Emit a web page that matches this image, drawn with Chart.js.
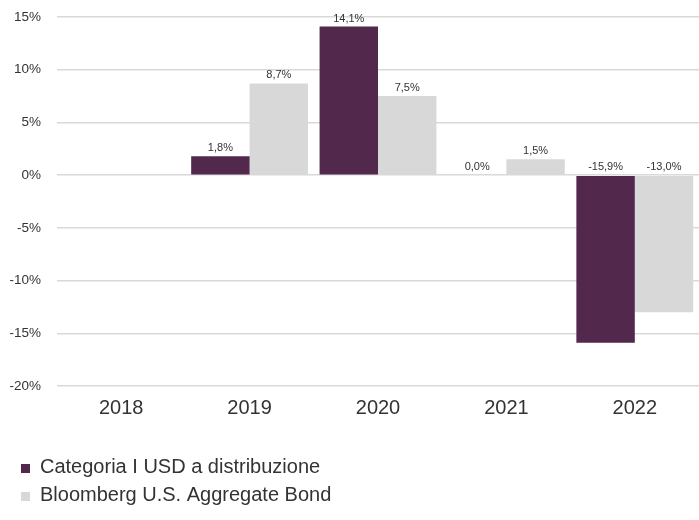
<!DOCTYPE html>
<html>
<head>
<meta charset="utf-8">
<script src="https://cdn.jsdelivr.net/npm/chart.js@4.4.1/dist/chart.umd.min.js"></script>
<style>
  html, body { margin: 0; padding: 0; background: #fff; }
  #wrap { width: 699px; height: 520px; }
</style>
</head>
<body>
<div id="wrap"><canvas id="barChart" width="699" height="520"></canvas></div>
<script>
const years = ['2018', '2019', '2020', '2021', '2022'];
const fundLabel = 'Categoria I USD a distribuzione';
const fundValues = [null, 1.8, 14.1, 0.0, -15.9];
const indexLabel = 'Bloomberg U.S. Aggregate Bond';
const indexValues = [null, 8.7, 7.5, 1.5, -13.0];
const yTicks = [15, 10, 5, 0, -5, -10, -15, -20];

const purple = '#52284c';
const grey = '#d8d8d8';
const font = "Arial, 'Liberation Sans', sans-serif";

// labels above bars (negative values: label sits above the zero line)
const valueLabels = {
    id: 'valueLabels',
    afterDatasetsDraw(chart) {
        const ctx = chart.ctx;
        const zero = chart.scales.y.getPixelForValue(0);
        ctx.save();
        ctx.font = '11px ' + font;
        ctx.fillStyle = '#333';
        ctx.textAlign = 'center';
        ctx.textBaseline = 'middle';
        chart.data.datasets.forEach((ds, i) => {
            chart.getDatasetMeta(i).data.forEach((bar, j) => {
                const v = ds.data[j];
                if (v === null) return;
                const top = v > 0 ? bar.y : zero;
                ctx.fillText(v.toFixed(1).replace('.', ',') + '%', bar.x, top - 8);
            });
        });
        ctx.restore();
    }
};

// vertical legend in the lower left corner
const sideLegend = {
    id: 'sideLegend',
    afterDraw(chart) {
        const ctx = chart.ctx;
        ctx.save();
        ctx.font = '20px ' + font;
        ctx.textBaseline = 'alphabetic';
        ctx.textAlign = 'left';
        chart.data.datasets.forEach((ds, i) => {
            const base = 473 + i * 28;
            ctx.fillStyle = ds.backgroundColor;
            ctx.fillRect(21, base - 9, 9, 9);
            ctx.fillStyle = '#333';
            ctx.fillText(ds.label, 40, base);
        });
        ctx.restore();
    }
};

new Chart(
    document.getElementById('barChart'),
    {
        type: 'bar',
        data: {
            labels: years,
            datasets: [
                {
                    label: fundLabel,
                    data: fundValues,
                    backgroundColor: purple,
                    barPercentage: 1.0,
                    categoryPercentage: 0.91
                },
                {
                    label: indexLabel,
                    data: indexValues,
                    backgroundColor: grey,
                    barPercentage: 1.0,
                    categoryPercentage: 0.91
                }
            ]
        },
        options: {
            responsive: false,
            animation: false,
            layout: {
                padding: { top: 17, left: 10, right: 0, bottom: 98 }
            },
            scales: {
                x: {
                    grid: { display: false },
                    border: { display: false },
                    ticks: {
                        color: '#333',
                        padding: 2,
                        font: { family: font, size: 20 }
                    }
                },
                y: {
                    min: -20,
                    max: 15,
                    afterBuildTicks: axis => {
                        axis.ticks = yTicks.map(v => ({ value: v }));
                    },
                    afterFit: axis => {
                        axis.width = 47;
                        axis.paddingTop = 0;
                        axis.paddingBottom = 0;
                    },
                    grid: {
                        color: '#d9d9d9',
                        lineWidth: 1.5,
                        drawTicks: false
                    },
                    border: { display: false },
                    ticks: {
                        color: '#333',
                        padding: 16,
                        font: { family: font, size: 13.5 },
                        callback: v => v + '%'
                    }
                }
            },
            plugins: {
                legend: { display: false },
                tooltip: { enabled: false }
            }
        },
        plugins: [valueLabels, sideLegend]
    }
);
</script>
</body>
</html>
